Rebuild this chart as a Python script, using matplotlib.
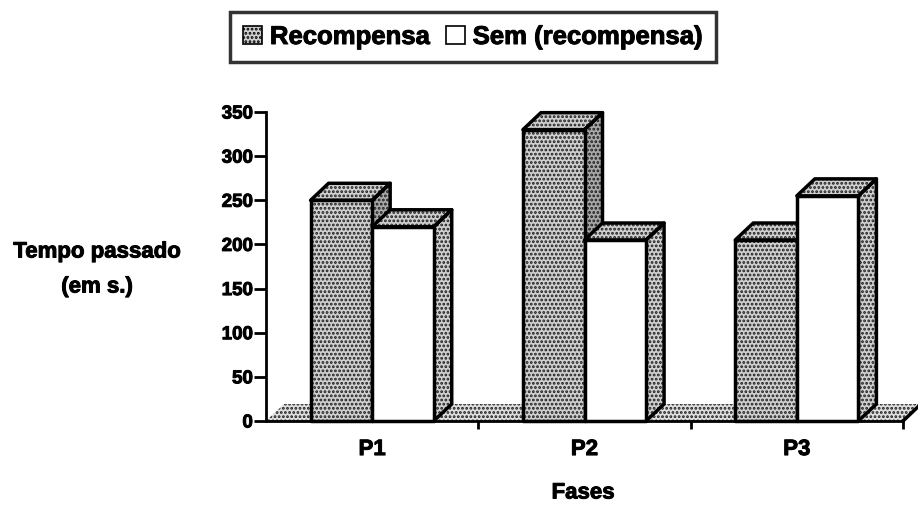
import matplotlib
matplotlib.use("Agg")
import matplotlib.pyplot as plt
import matplotlib.patheffects as pe
from matplotlib.patches import Polygon, Patch

# Tempo passado por fase, com e sem recompensa
fases = ["P1", "P2", "P3"]
recompensa = [250, 330, 205]
sem_recompensa = [220, 205, 255]
y_ticks = [0, 50, 100, 150, 200, 250, 300, 350]
series_labels = ["Recompensa", "Sem (recompensa)"]

plt.rcParams["font.family"] = ["Liberation Sans", "DejaVu Sans"]
plt.rcParams["font.weight"] = "bold"
plt.rcParams["hatch.color"] = "#1e1e1e"
plt.rcParams["hatch.linewidth"] = 1.35

# slightly heavier strokes on the text
heavy = [pe.withStroke(linewidth=0.7, foreground="black")]

W, H = 918, 505
fig = plt.figure(figsize=(W / 100, H / 100), dpi=100)
# axes placed so that x 0..3 spans the three categories
x0_px, x1_px, y0_px, y1_px = 266, 903, 421, 112
ax = fig.add_axes([x0_px / W, 1 - y0_px / H, (x1_px - x0_px) / W, (y0_px - y1_px) / H])
ax.set_xlim(0, 3)
ax.set_ylim(0, 350)

# depth offset of the 3d effect, in data units
DX = 18 / ((x1_px - x0_px) / 3)
DY = 17 / ((y0_px - y1_px) / 350)
BAR_W = 0.29
LW = 2.5

GRAY = "#cfcfcf"
DARK = "#a8a8a8"


def face(pts, fc, hatch=None, z=2):
    # filled face (with dot hatch) plus a black outline on top
    ax.add_patch(Polygon(pts, closed=True, facecolor=fc, hatch=hatch,
                         linewidth=0, zorder=z, clip_on=False))
    ax.add_patch(Polygon(pts, closed=True, facecolor="none", edgecolor="black",
                         linewidth=LW, joinstyle="round", zorder=z + 0.1, clip_on=False))


def box3d(x, w, h, front_fc, front_hatch, side_fc, top_fc, z):
    front = [(x, 0), (x + w, 0), (x + w, h), (x, h)]
    top = [(x, h), (x + DX, h + DY), (x + w + DX, h + DY), (x + w, h)]
    side = [(x + w, 0), (x + w + DX, DY), (x + w + DX, h + DY), (x + w, h)]
    face(side, side_fc, "....", z)
    face(top, top_fc, "....", z)
    face(front, front_fc, front_hatch, z + 0.2)


# floor
floor = [(0, 0), (3, 0), (3 + DX, DY), (DX, DY)]
ax.add_patch(Polygon(floor, closed=True, facecolor="#dedede", hatch="....",
                     linewidth=0, zorder=1, clip_on=False))
ax.plot([3, 3 + DX], [0, DY], color="black", lw=LW, clip_on=False, zorder=1.5,
        solid_capstyle="butt")

z = 3
for i in range(len(fases)):
    center = i + 0.5
    box3d(center - BAR_W, BAR_W, recompensa[i], GRAY, "....", DARK, GRAY, z)
    z += 1
    box3d(center, BAR_W, sem_recompensa[i], "white", None, GRAY, GRAY, z)
    z += 1

# axes styling
for s in ["top", "right"]:
    ax.spines[s].set_visible(False)
for s in ["left", "bottom"]:
    ax.spines[s].set_linewidth(2.0)
    ax.spines[s].set_zorder(50)
ax.set_yticks(y_ticks)
ax.set_yticklabels([str(t) for t in y_ticks], fontsize=13.5, fontweight="bold")
ax.tick_params(axis="y", length=8.5, width=2.0, pad=1)
ax.set_xticks([0.5, 1.5, 2.5])
ax.set_xticklabels(fases, fontsize=16, fontweight="bold")
ax.tick_params(axis="x", which="major", length=0, pad=13)
ax.set_xticks([1, 2, 3], minor=True)
ax.tick_params(axis="x", which="minor", length=6, width=2.0)
ax.patch.set_visible(False)
for lbl in ax.get_xticklabels() + ax.get_yticklabels():
    lbl.set_path_effects(heavy)

for txt, ypx in [("Tempo passado", 252), ("(em s.)", 287)]:
    fig.text(97 / W, 1 - ypx / H, txt, ha="center", va="center",
             fontsize=16, fontweight="bold", path_effects=heavy)
fig.text(583 / W, 1 - 493 / H, "Fases", ha="center", va="center",
         fontsize=16, fontweight="bold", path_effects=heavy)

handles = [Patch(facecolor=GRAY, edgecolor="black", hatch="....", linewidth=1.2),
           Patch(facecolor="white", edgecolor="black", linewidth=1.2)]
leg = fig.legend(handles, series_labels, loc="center", ncol=2,
                 bbox_to_anchor=(473 / W, 1 - 37 / H),
                 prop={"size": 18.5, "weight": "bold"},
                 handlelength=0.75, handleheight=0.75, handletextpad=0.3,
                 columnspacing=0.6, borderpad=0.5, fancybox=False, frameon=True)
leg.get_frame().set_edgecolor("black")
leg.get_frame().set_linewidth(2.5)
for t in leg.get_texts():
    t.set_path_effects(heavy)

fig.savefig("out.png", dpi=100)
